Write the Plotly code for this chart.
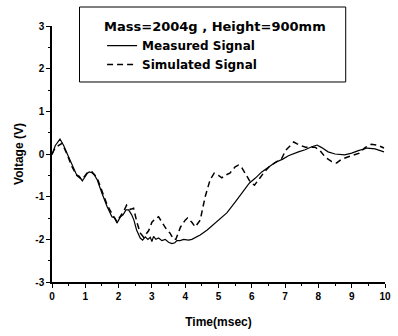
import plotly.graph_objects as go

# Measured signal (solid)
t_measured = [0.0, 0.1, 0.24, 0.35, 0.47, 0.55, 0.62, 0.74, 0.82, 0.91, 0.98, 1.06, 1.12, 1.2, 1.28, 1.36,
              1.5, 1.66, 1.8, 1.88, 1.95, 2.0, 2.06, 2.14, 2.22, 2.3, 2.39, 2.46, 2.54, 2.65, 2.72, 2.8,
              2.88, 2.95, 3.0, 3.05, 3.12, 3.2, 3.3, 3.4, 3.5, 3.6, 3.69, 3.75, 3.85, 3.95, 4.1, 4.2,
              4.28, 4.45, 4.66, 4.9, 5.05, 5.25, 5.5, 5.78, 5.93, 6.1, 6.3, 6.52, 6.7, 6.93, 7.1, 7.4,
              7.6, 7.8, 7.96, 8.1, 8.29, 8.5, 8.79, 9.0, 9.2, 9.47, 9.7, 9.97]
v_measured = [-0.02, 0.2, 0.35, 0.2, -0.02, -0.15, -0.26, -0.49, -0.52, -0.63, -0.55, -0.45, -0.42, -0.44, -0.5, -0.61,
              -0.92, -1.24, -1.47, -1.5, -1.62, -1.55, -1.47, -1.42, -1.31, -1.31, -1.42, -1.55, -1.78, -1.97, -2.02, -1.94,
              -2.0, -1.95, -2.05, -1.93, -2.0, -1.97, -2.03, -2.0, -2.07, -2.1, -2.08, -2.03, -2.03, -2.0, -2.02, -2.0,
              -1.97, -1.9, -1.78, -1.62, -1.52, -1.38, -1.13, -0.84, -0.68, -0.57, -0.42, -0.3, -0.2, -0.12, -0.04, 0.05,
              0.1, 0.17, 0.21, 0.15, 0.05, 0.0, -0.02, 0.02, 0.08, 0.14, 0.12, 0.05]

# Simulated signal (dashed)
t_simulated = [0.0, 0.1, 0.18, 0.3, 0.45, 0.6, 0.74, 0.9, 1.05, 1.2, 1.35, 1.5, 1.66, 1.8, 1.95, 2.06,
               2.15, 2.24, 2.35, 2.45, 2.55, 2.65, 2.75, 2.9, 3.0, 3.1, 3.2, 3.3, 3.45, 3.54, 3.65, 3.72,
               3.86, 4.0, 4.07, 4.2, 4.3, 4.45, 4.6, 4.75, 4.87, 5.0, 5.1, 5.2, 5.34, 5.5, 5.6, 5.7,
               5.78, 5.84, 5.95, 6.08, 6.2, 6.35, 6.52, 6.7, 6.9, 7.02, 7.15, 7.26, 7.4, 7.61, 7.9, 8.05,
               8.2, 8.4, 8.55, 8.7, 8.88, 9.05, 9.23, 9.4, 9.59, 9.8, 9.97]
v_simulated = [0.0, 0.15, 0.19, 0.25, 0.0, -0.3, -0.5, -0.6, -0.45, -0.42, -0.55, -0.88, -1.2, -1.4, -1.58, -1.45,
               -1.35, -1.2, -1.3, -1.27, -1.6, -1.85, -1.95, -1.8, -1.6, -1.52, -1.47, -1.6, -1.78, -1.85, -2.0, -2.0,
               -1.71, -1.55, -1.5, -1.6, -1.71, -1.55, -1.0, -0.6, -0.45, -0.5, -0.56, -0.5, -0.45, -0.3, -0.26, -0.32,
               -0.42, -0.49, -0.65, -0.73, -0.6, -0.45, -0.3, -0.2, -0.1, 0.09, 0.2, 0.28, 0.22, 0.16, 0.16, 0.08,
               -0.07, -0.18, -0.21, -0.12, -0.07, -0.02, 0.02, 0.15, 0.23, 0.2, 0.14]

x_tick_vals = [0, 1, 2, 3, 4, 5, 6, 7, 8, 9, 10]
x_tick_labels = ["0", "1", "2", "3", "4", "5", "6", "7", "8", "9", "10"]
y_tick_vals = [-3, -2, -1, 0, 1, 2, 3]
y_tick_labels = ["-3", "-2", "-1", "0", "1", "2", "3"]

legend_title = "Mass=2004g , Height=900mm"
series_names = ["Measured Signal", "Simulated Signal"]

fig = go.Figure()
fig.add_trace(go.Scatter(x=t_measured, y=v_measured, mode="lines", name=series_names[0],
                         line=dict(color="black", width=1.2)))
fig.add_trace(go.Scatter(x=t_simulated, y=v_simulated, mode="lines", name=series_names[1],
                         line=dict(color="black", width=1.5, dash="6px,4px")))

tick_font = dict(family="Liberation Sans, Arial, sans-serif", size=10, color="black", weight="bold")
axis_common = dict(
    showline=True, linecolor="black", linewidth=1.5, mirror=False,
    ticks="outside", ticklen=4, tickwidth=1.2, tickcolor="black",
    showgrid=False, zeroline=False, tickfont=tick_font,
)

fig.update_xaxes(range=[0, 10], tickvals=x_tick_vals, ticktext=x_tick_labels,
                 minor=dict(ticks="outside", dtick=0.5, ticklen=2, tickwidth=1, tickcolor="black"),
                 title=dict(text="Time(msec)", font=dict(family="Liberation Sans, Arial", size=12, color="black", weight="bold"), standoff=17),
                 **axis_common)
fig.update_yaxes(range=[-3, 3], tickvals=y_tick_vals, ticktext=y_tick_labels,
                 minor=dict(ticks="outside", dtick=0.5, ticklen=2, tickwidth=1, tickcolor="black"),
                 title=dict(text="Voltage (V)", font=dict(family="Liberation Sans, Arial", size=12, color="black", weight="bold"), standoff=9),
                 **axis_common)

# legend frame
fig.add_shape(type="rect", xref="paper", yref="paper",
              x0=0.0826, x1=0.882, y0=0.7813, y1=1.0742,
              line=dict(color="black", width=1), fillcolor="white", layer="below")

fig.update_layout(
    width=398, height=336,
    margin=dict(l=52, r=7, t=26, b=54),
    paper_bgcolor="white", plot_bgcolor="white",
    legend=dict(
        title=dict(text=legend_title, font=dict(family="DejaVu Sans", size=13, color="black", weight="bold")),
        font=dict(family="DejaVu Sans", size=12, color="black", weight="bold"),
        x=0.1504, y=1.046, xanchor="left", yanchor="top",
        bgcolor="rgba(0,0,0,0)", borderwidth=0,
        tracegroupgap=0, itemwidth=30,
    ),
)

fig.write_html("out.html")
